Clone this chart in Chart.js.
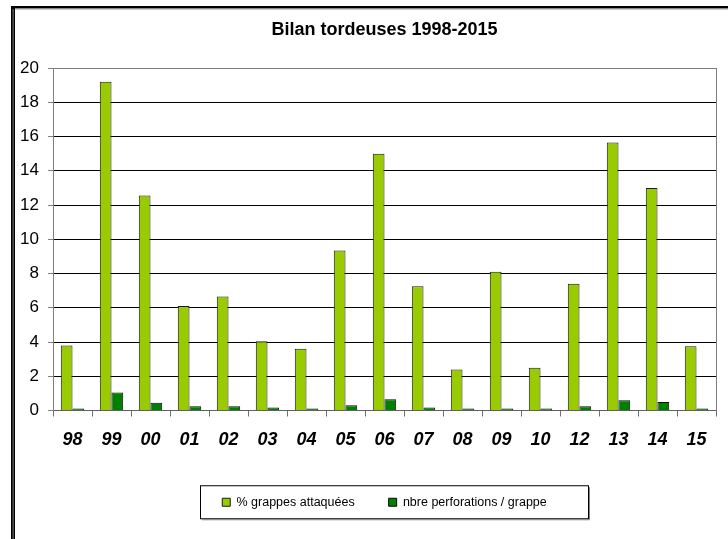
<html>
  <head>
    <meta charset="utf-8">
    <title>Bilan tordeuses 1998-2015</title>
    <script src="https://cdn.jsdelivr.net/npm/chart.js@4.4.0/dist/chart.umd.min.js"></script>
    <style>
      body { margin: 0; background: #fff; }
      canvas { display: block; }
    </style>
  </head>
  <body>
    <canvas id="myChart" width="728" height="539"></canvas>

    <script type="text/javascript">
      // data
      const years = ['98', '99', '00', '01', '02', '03', '04', '05', '06', '07', '08', '09', '10', '12', '13', '14', '15'];
      const grappesAttaquees = [3.8, 19.2, 12.55, 6.1, 6.65, 4.05, 3.6, 9.35, 15.0, 7.25, 2.4, 8.1, 2.5, 7.4, 15.65, 13.0, 3.75];
      const perforations = [0.1, 1.05, 0.45, 0.25, 0.25, 0.17, 0.08, 0.3, 0.65, 0.17, 0.04, 0.08, 0.03, 0.25, 0.6, 0.5, 0.08];
      const yTicks = [0, 2, 4, 6, 8, 10, 12, 14, 16, 18, 20];

      const legendPad = 34;

      // frame, right border of the plot and box round the legend
      const decor = {
        id: 'decor',
        afterDraw(chart) {
          const c = chart.ctx;
          const a = chart.chartArea;
          c.save();
          // plot right edge
          c.strokeStyle = '#808080';
          c.lineWidth = 1;
          c.beginPath();
          c.moveTo(a.right + 0.5, a.top);
          c.lineTo(a.right + 0.5, a.bottom);
          c.stroke();
          // outer frame
          c.fillStyle = '#000';
          c.fillRect(11, 6, 717, 2.5);
          c.fillRect(11, 6, 4, 533);
          c.fillStyle = '#9a9a9a';
          c.fillRect(15, 8.5, 713, 1);
          c.fillRect(12.7, 9, 0.8, 530);
          // legend box
          const boxes = chart.legend.legendHitBoxes;
          if (boxes && boxes.length) {
            const first = boxes[0], last = boxes[boxes.length - 1];
            const cy = first.top + first.height / 2;
            const l = 200.5, r = 588.5;
            c.strokeStyle = '#000';
            c.lineWidth = 1;
            c.strokeRect(l, cy - 16.5, r - l, 33);
            c.strokeStyle = '#808080';
            c.beginPath();
            c.moveTo(l + 1.5, cy + 17.5);
            c.lineTo(r + 1, cy + 17.5);
            c.lineTo(r + 1, cy - 15);
            c.stroke();
          }
          c.restore();
        }
      };

      var ctx = document.getElementById('myChart').getContext('2d');
      var chart = new Chart(ctx, {
        type: 'bar',
        data: {
          labels: years,
          datasets: [{
            label: '% grappes attaquées',
            data: grappesAttaquees,
            backgroundColor: '#99CC00',
            borderColor: '#1a1a1a',
            borderWidth: 1,
            borderSkipped: 'bottom'
          }, {
            label: 'nbre perforations / grappe',
            data: perforations,
            backgroundColor: '#008000',
            borderColor: '#0a0a0a',
            borderWidth: 1,
            borderSkipped: 'bottom',
            minBarLength: 2
          }]
        },
        options: {
          responsive: false,
          devicePixelRatio: 1,
          animation: false,
          layout: { padding: { left: 0, right: 12, top: 0, bottom: 20.5 } },
          datasets: { bar: { categoryPercentage: 0.6, barPercentage: 1.0 } },
          plugins: {
            title: {
              display: true,
              fullSize: false,
              text: 'Bilan tordeuses 1998-2015',
              color: '#000',
              font: { family: 'Liberation Sans, Arial, sans-serif', size: 18, weight: 'bold' },
              padding: { top: 19, bottom: 27.4 }
            },
            legend: {
              position: 'bottom',
              fullSize: false,
              labels: {
                color: '#000',
                boxWidth: 8,
                boxHeight: 8,
                padding: legendPad,
                font: { family: 'Liberation Sans, Arial, sans-serif', size: 12.5 }
              }
            },
            tooltip: { enabled: false }
          },
          scales: {
            x: {
              grid: {
                offset: true,
                drawOnChartArea: false,
                tickLength: 6,
                tickColor: '#707070'
              },
              border: { color: '#606060' },
              ticks: {
                color: '#000',
                padding: 13,
                maxRotation: 0,
                font: { family: 'Liberation Sans, Arial, sans-serif', size: 18, weight: 'bold', style: 'italic' }
              },
              afterFit(scale) { scale.height = 85.5 - legendPad; }
            },
            y: {
              min: 0,
              max: 20,
              afterBuildTicks(scale) { scale.ticks = yTicks.map(v => ({ value: v })); },
              grid: {
                color: c => (c.tick && c.tick.value === 20) ? '#808080' : '#000000',
                tickLength: 5,
                tickColor: '#808080'
              },
              border: { color: '#808080' },
              ticks: {
                color: '#000',
                padding: 9,
                font: { family: 'Liberation Sans, Arial, sans-serif', size: 17 }
              },
              afterFit(scale) { scale.width = 53; }
            }
          }
        },
        plugins: [decor]
      });
    </script>
  </body>
</html>
